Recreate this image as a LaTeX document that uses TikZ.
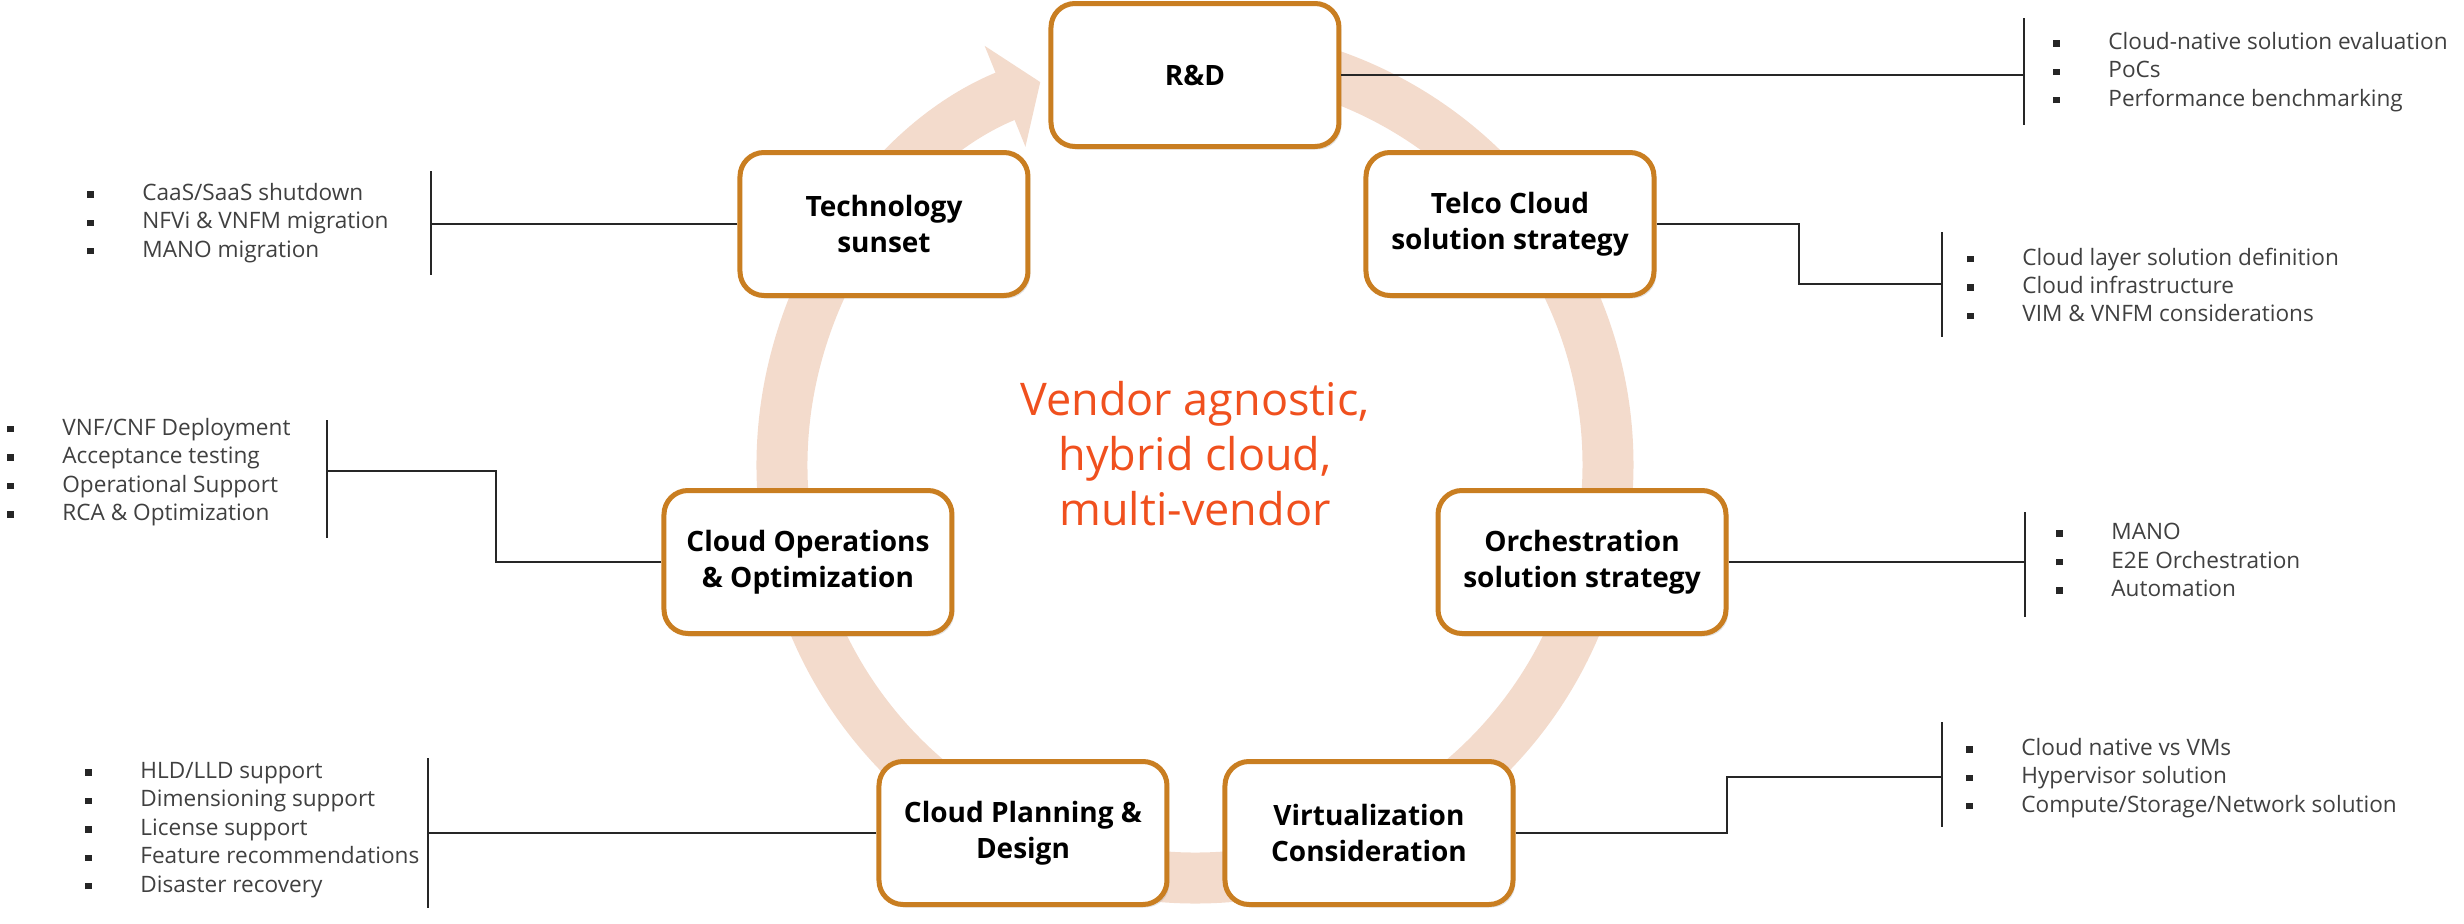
\documentclass[tikz,border=0pt]{standalone}
\usepackage{fontspec}
\setmainfont{Open Sans}
\usetikzlibrary{arrows.meta,calc,positioning,shadows}
\definecolor{ringpeach}{RGB}{243,219,204}
\definecolor{rimorange}{RGB}{201,126,33}
\definecolor{sloganred}{RGB}{240,80,30}
\definecolor{itemgray}{RGB}{64,64,64}
\newcommand{\bul}{\makebox[27.5pt][l]{\color{black!85}\raisebox{1.4pt}{\rule{3.2pt}{3.2pt}}}}
\tikzstyle{stage} = [rectangle, rounded corners=12pt, draw=rimorange, line width=2.5pt, fill=white, minimum width=144pt, minimum height=71.5pt, align=center, font=\bfseries\fontsize{14}{18}\selectfont, drop shadow={opacity=0.22, shadow xshift=1.2pt, shadow yshift=-1.5pt}]
\tikzstyle{items} = [align=left, inner sep=0pt, text=itemgray, font=\fontsize{11.3}{14.2}\selectfont]
\tikzstyle{spine} = [line width=1pt, black!85]
\tikzstyle{wire}  = [line width=1pt, black!85]

\begin{document}
\begin{tikzpicture}[x=0.5pt, y=0.5pt]
      \useasboundingbox (-1195,-458) rectangle (1269,465);
      \draw[ringpeach, line width=25.5pt, -{Triangle[length=19pt, width=53.5pt]}] (85:413) arc[start angle=85, end angle=-248, radius=413];
      \node[font=\fontsize{22.5}{27.5}\selectfont, text=sloganred, align=center] (slogan) at (0,11) {Vendor agnostic,\\ hybrid cloud,\\ multi-vendor};
      \node[stage] (rd)     at (0,390)     {R\&D};
      \node[stage] (telco)  at (315,241)   {Telco Cloud\\solution strategy};
      \node[stage] (orch)   at (387,-97)   {Orchestration\\solution strategy};
      \node[stage] (virt)   at (174,-368)  {Virtualization\\Consideration};
      \node[stage] (plan)   at (-172,-368) {Cloud Planning \&\\Design};
      \node[stage] (ops)    at (-387,-97)  {Cloud Operations\\\& Optimization};
      \node[stage] (sunset) at (-311,241)  {Technology\\sunset};

      \coordinate (rdtop) at (829,447);
      \coordinate (rdbot) at (829,340);
      \draw[spine] (rdtop) -- (rdbot);
      \draw[wire] (rd.east) -- (rd.east -| rdtop);
      \node[items, anchor=west] (rdlist) at (858,393) {\bul Cloud-native solution evaluation\\ \bul PoCs\\ \bul Performance benchmarking};

      \coordinate (telcotop) at (747,233);
      \coordinate (telcobot) at (747,128);
      \coordinate (telcoknee) at (604,181);
      \draw[spine] (telcotop) -- (telcobot);
      \draw[wire] (telco.east) -| (telcoknee) -- (telcoknee -| telcotop);
      \node[items, anchor=west] (telcolist) at (772,180) {\bul Cloud layer solution definition\\ \bul Cloud infrastructure\\ \bul VIM \& VNFM considerations};

      \coordinate (orchtop) at (830,-47);
      \coordinate (orchbot) at (830,-152);
      \draw[spine] (orchtop) -- (orchbot);
      \draw[wire] (orch.east) -- (orch.east -| orchtop);
      \node[items, anchor=west] (orchlist) at (861,-95) {\bul MANO\\ \bul E2E Orchestration\\ \bul Automation};

      \coordinate (virttop) at (747,-257);
      \coordinate (virtbot) at (747,-362);
      \coordinate (virtknee) at (532,-312);
      \draw[spine] (virttop) -- (virtbot);
      \draw[wire] (virt.east) -| (virtknee) -- (virtknee -| virttop);
      \node[items, anchor=west] (virtlist) at (771,-313) {\bul Cloud native vs VMs\\ \bul Hypervisor solution\\ \bul Compute/Storage/Network solution};

      \coordinate (plantop) at (-767,-293);
      \coordinate (planbot) at (-767,-443);
      \draw[spine] (plantop) -- (planbot);
      \draw[wire] (plan.west) -- (plan.west -| plantop);
      \node[items, anchor=west] (planlist) at (-1110,-365) {\bul HLD/LLD support\\ \bul Dimensioning support\\ \bul License support\\ \bul Feature recommendations\\ \bul Disaster recovery};

      \coordinate (opstop) at (-868,45);
      \coordinate (opsbot) at (-868,-73);
      \coordinate (opsknee) at (-699,-6);
      \draw[spine] (opstop) -- (opsbot);
      \draw[wire] (ops.west) -| (opsknee) -- (opsknee -| opstop);
      \node[items, anchor=west] (opslist) at (-1188,-7) {\bul VNF/CNF Deployment\\ \bul Acceptance testing\\ \bul Operational Support\\ \bul RCA \& Optimization};

      \coordinate (sunsettop) at (-764,294);
      \coordinate (sunsetbot) at (-764,190);
      \draw[spine] (sunsettop) -- (sunsetbot);
      \draw[wire] (sunset.west) -- (sunset.west -| sunsettop);
      \node[items, anchor=west] (sunsetlist) at (-1108,242) {\bul CaaS/SaaS shutdown\\ \bul NFVi \& VNFM migration\\ \bul MANO migration};
    \end{tikzpicture}
\end{document}
